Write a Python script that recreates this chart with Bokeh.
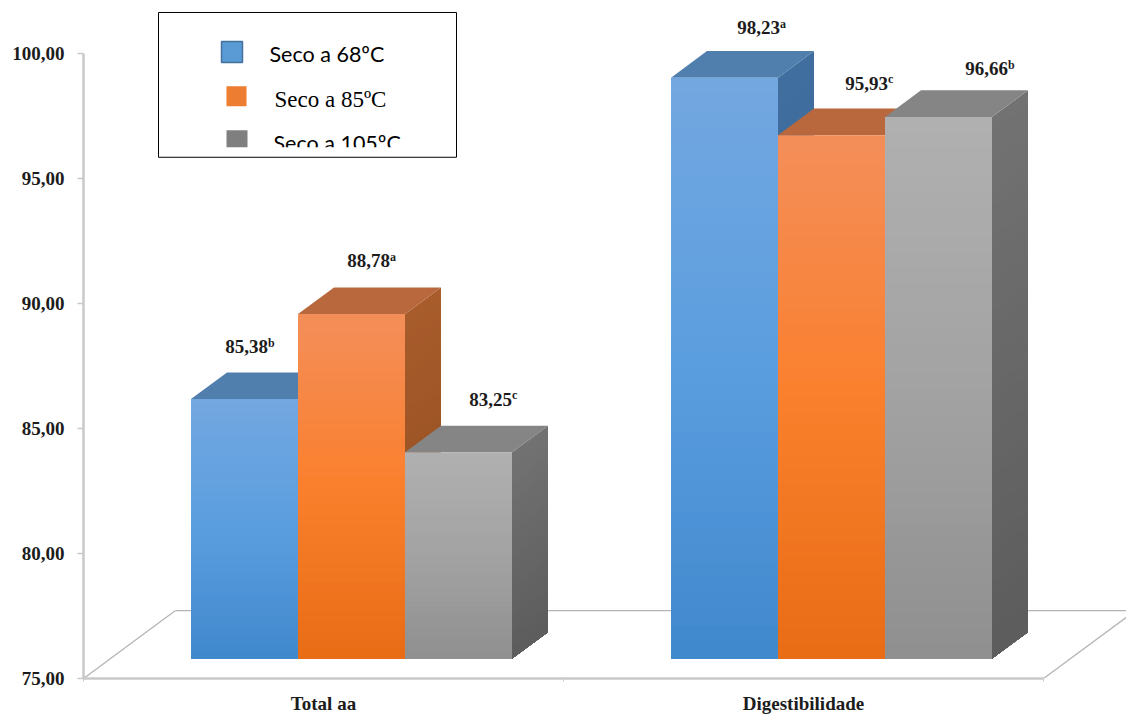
from bokeh.core.properties import value
from bokeh.embed import file_html
from bokeh.models import ColumnDataSource, FixedTicker
from bokeh.plotting import figure
from bokeh.resources import INLINE

# Chart values
categories = ["Total aa", "Digestibilidade"]
series_names = ["Seco a 68ºC", "Seco a 85ºC", "Seco a 105ºC"]
seco_68 = [85.38, 98.23]
seco_85 = [88.78, 95.93]
seco_105 = [83.25, 96.66]
letters_68 = ["b", "a"]
letters_85 = ["a", "c"]
letters_105 = ["c", "b"]
y_ticks = [75, 80, 85, 90, 95, 100]
y_tick_labels = ["75,00", "80,00", "85,00", "90,00", "95,00", "100,00"]

# Face colours per series: front (top, middle, bottom), roof, side (top, bottom)
front_colors = [((0x72, 0xA7, 0xE0), (0x5A, 0x9D, 0xDF), (0x3F, 0x88, 0xCC)),
                ((0xF4, 0x8E, 0x58), (0xFA, 0x7F, 0x2C), (0xE8, 0x6C, 0x14)),
                ((0xB0, 0xB0, 0xB0), (0xA2, 0xA2, 0xA2), (0x8F, 0x8F, 0x8F))]
roof_colors = ["#507FAE", "#B8683C", "#858585"]
side_colors = [((0x40, 0x6F, 0x9F), (0x2F, 0x5C, 0x88)),
               ((0xA8, 0x5C, 0x2C), (0x8F, 0x4A, 0x1C)),
               ((0x72, 0x72, 0x72), (0x5C, 0x5C, 0x5C))]

# Scale layout in pixels
AXIS_LEFT = 83
AXIS_BOTTOM = 679
PX_PER_GROUP = 480
PX_PER_UNIT = 25.04
WIDTH, HEIGHT = 1126, 716

x_start, x_end = 0, (WIDTH - AXIS_LEFT) / PX_PER_GROUP
y_start, y_end = 75, 75 + AXIS_BOTTOM / PX_PER_UNIT


def px_x(x):
    return (x - AXIS_LEFT) / PX_PER_GROUP


def px_y(y):
    return 75 + (AXIS_BOTTOM - y) / PX_PER_UNIT


p = figure(width=WIDTH, height=HEIGHT, x_range=(x_start, x_end), y_range=(y_start, y_end),
           output_backend="svg", toolbar_location=None, min_border_left=AXIS_LEFT,
           min_border_right=0, min_border_top=0, min_border_bottom=HEIGHT - AXIS_BOTTOM,
           background_fill_color="white", outline_line_color=None)
p.grid.visible = False

LABEL_FONT = value("Liberation Serif")

# Left axis
ya = p.yaxis[0]
ya.ticker = FixedTicker(ticks=y_ticks)
ya.major_label_overrides = {t: s for t, s in zip(y_ticks, y_tick_labels)}
ya.bounds = (75, 100)
ya.axis_line_color = "#C9C9C9"
ya.axis_line_width = 2.5
ya.major_tick_line_color = "#C9C9C9"
ya.major_tick_line_width = 1.5
ya.major_tick_in = 0
ya.major_tick_out = 6
ya.minor_tick_line_color = None
ya.major_label_standoff = 13
ya.major_label_text_font = "Liberation Serif"
ya.major_label_text_font_style = "bold"
ya.major_label_text_font_size = "19px"
ya.major_label_text_color = "#1C1C1C"

# Bottom axis with labels centred between the group ticks
xa = p.xaxis[0]
group_centres = [i + 0.5 for i in range(len(categories))]
xa.ticker = FixedTicker(ticks=group_centres, minor_ticks=list(range(len(categories) + 1)))
xa.major_label_overrides = {c: n for c, n in zip(group_centres, categories)}
xa.bounds = (0, len(categories))
xa.axis_line_color = "#C9C9C9"
xa.axis_line_width = 2.5
xa.major_tick_line_color = None
xa.minor_tick_line_color = "#C9C9C9"
xa.minor_tick_in = 0
xa.minor_tick_out = 3
xa.major_label_standoff = 8
xa.major_label_text_font = "Liberation Serif"
xa.major_label_text_font_style = "bold"
xa.major_label_text_font_size = "19px"
xa.major_label_text_color = "#1C1C1C"

# Receding floor: two diagonals and the rear edge
FLOOR_DX = 92 / PX_PER_GROUP
FLOOR_DY = 68 / PX_PER_UNIT
n_groups = len(categories)
p.multi_line(xs=[[0, FLOOR_DX], [n_groups, n_groups + FLOOR_DX], [FLOOR_DX, x_end]],
             ys=[[75, 75 + FLOOR_DY], [75, 75 + FLOOR_DY], [75 + FLOOR_DY, 75 + FLOOR_DY]],
             line_color="#B5B5B5", line_width=1.3)

# Bars sit a little in front of the rear wall, lifted above the axis baseline
BAR_WIDTH = 107 / PX_PER_GROUP
BAR_DX = 36 / PX_PER_GROUP
BAR_DY = 26.6 / PX_PER_UNIT
LIFT = 0.8
GROUP_SHIFT = 28 / PX_PER_GROUP
N_BANDS = 36


def mix(a, b, t):
    return "#%02X%02X%02X" % tuple(round(u + (v - u) * t) for u, v in zip(a, b))


def mix3(stops, t):
    if t < 0.5:
        return mix(stops[0], stops[1], t * 2)
    return mix(stops[1], stops[2], (t - 0.5) * 2)


xs, ys, colors = [], [], []
for g in range(n_groups):
    for s, series in enumerate((seco_68, seco_85, seco_105)):
        left = g + 0.5 + GROUP_SHIFT + (s - 1.5) * BAR_WIDTH
        right = left + BAR_WIDTH
        base = 75 + LIFT
        top = series[g] + LIFT
        # nested faces, tallest first, give a smooth vertical shading without seams
        for b in range(N_BANDS):
            t = b / N_BANDS
            h = top + (base - top) * t
            xs.append([right, right + BAR_DX, right + BAR_DX, right])
            ys.append([base, base + BAR_DY, h + BAR_DY, h])
            colors.append(mix(*side_colors[s], t))
        xs.append([left, right, right + BAR_DX, left + BAR_DX])
        ys.append([top, top, top + BAR_DY, top + BAR_DY])
        colors.append(roof_colors[s])
        for b in range(N_BANDS):
            t = b / N_BANDS
            h = top + (base - top) * t
            xs.append([left, right, right, left])
            ys.append([base, base, h, h])
            colors.append(mix3(front_colors[s], t))

p.patches(xs, ys, fill_color=colors, line_color=None)

# Value labels with their significance letters raised beside them
label_dx = [23.5, 38.5, 53.5, 55.5, 56.5, 69.5]
label_dy = [52, 53, 53, 50, 52, 48]
lab_x, lab_y, lab_text, lab_letter = [], [], [], []
for g in range(n_groups):
    for s, (series, letters) in enumerate(((seco_68, letters_68), (seco_85, letters_85), (seco_105, letters_105))):
        lab_x.append(g + 0.5 + GROUP_SHIFT + (s - 1) * BAR_WIDTH)
        lab_y.append(series[g] + LIFT)
        lab_text.append(f"{series[g]:.2f}".replace(".", ","))
        lab_letter.append(letters[g])
labels = ColumnDataSource(dict(x=lab_x, y=lab_y, text=lab_text, letter=lab_letter,
                               dx=[d for d in label_dx], dy=[-d for d in label_dy],
                               dy_sup=[-d - 4 for d in label_dy]))
p.text("x", "y", text="text", source=labels, x_offset="dx", y_offset="dy", text_font=LABEL_FONT,
       text_font_style="bold", text_font_size="19px", text_color="#1C1C1C",
       text_align="right", text_baseline="middle")
p.text("x", "y", text="letter", source=labels, x_offset="dx", y_offset="dy_sup", text_font=LABEL_FONT,
       text_font_style="bold", text_font_size="12px", text_color="#1C1C1C",
       text_align="left", text_baseline="middle")

# Legend box: its last row is cut off by the blank strip at the foot of the frame
box_left, box_right, box_top, box_bottom = 158, 456, 12, 157
cut_y = 147
p.quad(left=[px_x(box_left)], right=[px_x(box_right)], top=[px_y(box_top)], bottom=[px_y(box_bottom)],
       fill_color="white", line_color=None)
p.quad(left=[px_x(221)], right=[px_x(242)], top=[px_y(41)], bottom=[px_y(62)],
       fill_color="#5B9BD5", line_color="#41719C", line_width=1.5)
p.quad(left=[px_x(226)], right=[px_x(246)], top=[px_y(86)], bottom=[px_y(106)],
       fill_color="#ED7D31", line_color=None)
p.quad(left=[px_x(226)], right=[px_x(247)], top=[px_y(130)], bottom=[px_y(150)],
       fill_color="#7F7F7F", line_color=None)
p.text([px_x(269)], [px_y(54)], text=[series_names[0]], text_font=value("Lato"),
       text_font_size="21.5px", text_color="black", text_baseline="middle")
p.text([px_x(274)], [px_y(99)], text=[series_names[1]], text_font=LABEL_FONT,
       text_font_size="23px", text_color="black", text_baseline="middle")
p.text([px_x(273)], [px_y(143)], text=[series_names[2]], text_font=value("Lato"),
       text_font_size="21.5px", text_color="black", text_baseline="middle")
p.quad(left=[px_x(box_left + 1)], right=[px_x(box_right - 1)], top=[px_y(cut_y)], bottom=[px_y(box_bottom)],
       fill_color="white", line_color=None)
p.quad(left=[px_x(box_left)], right=[px_x(box_right)], top=[px_y(box_top)], bottom=[px_y(box_bottom)],
       fill_color=None, line_color="black", line_width=1)

open("out.html", "w").write(file_html(p, INLINE))
